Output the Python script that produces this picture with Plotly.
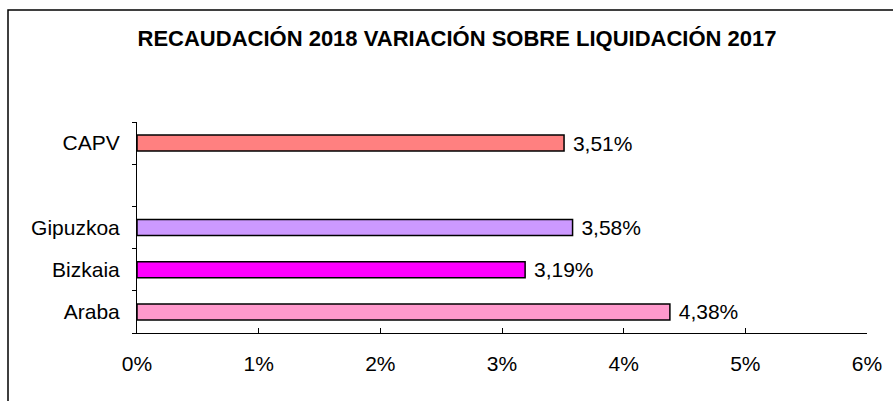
import plotly.graph_objects as go

categories = ["Araba", "Bizkaia", "Gipuzkoa", " ", "CAPV"]
bar_categories = ["Araba", "Bizkaia", "Gipuzkoa", "CAPV"]
values = [4.38, 3.19, 3.58, 3.51]
colors = ["#FF99CC", "#FF00FF", "#CC99FF", "#FF8080"]
tick_vals = [0, 1, 2, 3, 4, 5, 6]
tick_text = ["0%", "1%", "2%", "3%", "4%", "5%", "6%"]
title_text = "RECAUDACIÓN 2018 VARIACIÓN SOBRE LIQUIDACIÓN 2017"

font = "Liberation Sans, Arial, sans-serif"

fig = go.Figure()
fig.add_trace(go.Bar(
    y=bar_categories, x=values, orientation="h",
    marker=dict(color=colors, line=dict(color="black", width=1.5)),
    width=0.38,
    texttemplate="\u00a0%{x:.2f}%", textposition="outside", constraintext="none",
    textfont=dict(family=font, size=21, color="black"),
    cliponaxis=False, showlegend=False, hoverinfo="skip",
))

fig.update_layout(
    width=893, height=401,
    margin=dict(l=137, r=26, t=122, b=68),
    paper_bgcolor="white", plot_bgcolor="white",
    separators=",.",
    font=dict(family=font, size=21, color="black"),
    title=dict(text="<b>" + title_text + "</b>", xref="container", x=457 / 893,
               xanchor="center", y=1 - 38 / 401, yanchor="middle",
               font=dict(family=font, size=22, color="black")),
)
fig.update_xaxes(
    range=[0, 6], tickmode="array", tickvals=tick_vals, ticktext=tick_text,
    showgrid=False, zeroline=False, automargin=False,
    showline=True, linecolor="black", linewidth=1,
    ticks="inside", ticklen=5, tickcolor="black",
    ticklabelstandoff=12,
    tickfont=dict(family=font, size=21, color="black"),
)
fig.update_yaxes(
    type="category", categoryorder="array", categoryarray=categories,
    range=[-0.5, 4.5], tickson="boundaries", automargin=False,
    showgrid=False, zeroline=False,
    showline=True, linecolor="black", linewidth=1,
    ticks="outside", ticklen=4, tickcolor="black",
    ticklabelstandoff=12,
    tickfont=dict(family=font, size=21, color="black"),
)

# chart frame (left and top edges visible)
fig.add_shape(type="rect", xref="paper", yref="paper",
              x0=(8 - 137) / 730, x1=1.2, y0=-0.5, y1=(333 - 10) / 211,
              line=dict(color="black", width=1.5), fillcolor="rgba(0,0,0,0)",
              layer="below")

fig.write_html("out.html", config={"displayModeBar": False, "staticPlot": True},
               post_script="document.body.style.margin='0';document.body.style.overflow='hidden';")
